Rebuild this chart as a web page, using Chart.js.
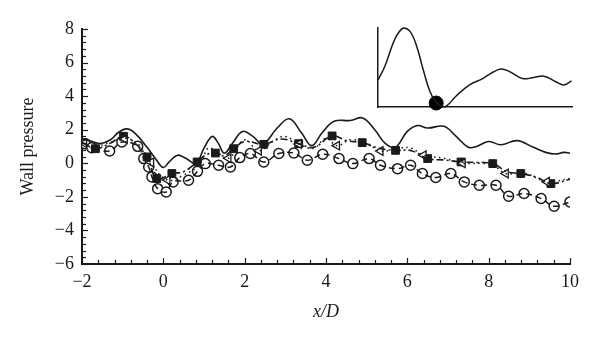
<!DOCTYPE html>
<html>
<head>
<meta charset="utf-8">
<script src="https://cdn.jsdelivr.net/npm/chart.js@4.4.0/dist/chart.umd.min.js"></script>
<style>
  body { margin: 0; background: #fff; }
  #wrap { position: relative; width: 600px; height: 344px; }
  #Chart { position: absolute; left: 0; top: 0; }
  #Inset { position: absolute; left: 370px; top: 20px; }
</style>
</head>
<body>
<div id="wrap">
  <canvas id="Chart" width="600" height="344"></canvas>
  <canvas id="Inset" width="210" height="95"></canvas>
</div>
<script>
// solid line
const solidX = [-2.0, -1.75, -1.55, -1.3, -1.1, -0.9, -0.7, -0.4, -0.2, 0.0, 0.15, 0.35, 0.55, 0.8, 1.0, 1.2, 1.35, 1.5, 1.7, 1.95, 2.2, 2.45, 2.8, 3.1, 3.4, 3.65, 3.9, 4.2, 4.6, 4.9, 5.2, 5.45, 5.7, 6.0, 6.25, 6.5, 6.9, 7.2, 7.5, 7.7, 8.0, 8.3, 8.7, 9.1, 9.4, 9.65, 9.85, 10.0];
const solidY = [1.45, 1.3, 1.17, 1.4, 1.85, 2.05, 1.8, 0.95, 0.3, -0.25, 0.1, 0.48, 0.3, 0.0, 0.9, 1.6, 1.2, 0.6, 1.2, 1.9, 1.6, 1.15, 2.1, 2.65, 1.8, 1.05, 1.8, 2.5, 2.55, 2.7, 2.0, 1.2, 0.95, 1.9, 2.25, 2.1, 2.2, 1.6, 0.95, 1.0, 1.3, 1.1, 1.35, 0.95, 0.65, 0.55, 0.65, 0.6];

// dash-dot line with filled squares
const dashDotX = [-2.0, -1.67, -1.3, -0.98, -0.7, -0.4, -0.16, 0.21, 0.5, 0.83, 1.05, 1.28, 1.5, 1.73, 2.0, 2.47, 2.9, 3.33, 3.7, 4.15, 4.5, 4.89, 5.3, 5.71, 6.1, 6.5, 6.9, 7.32, 7.7, 8.1, 8.45, 8.79, 9.2, 9.53, 10.0];
const dashDotY = [1.25, 0.87, 1.2, 1.61, 1.2, 0.38, -0.91, -0.61, -0.5, 0.08, 0.5, 0.61, 0.45, 0.87, 1.3, 1.13, 1.45, 1.17, 0.95, 1.63, 1.35, 1.23, 0.9, 0.77, 0.75, 0.28, 0.2, 0.08, 0.05, -0.02, -0.5, -0.61, -0.85, -1.21, -0.95];
const squareX = [-1.67, -0.98, -0.4, -0.16, 0.21, 0.83, 1.28, 1.73, 2.47, 3.33, 4.15, 4.89, 5.71, 6.5, 7.32, 8.1, 8.79, 9.53];
const squareY = [0.87, 1.61, 0.38, -0.91, -0.61, 0.08, 0.61, 0.87, 1.13, 1.17, 1.63, 1.23, 0.77, 0.28, 0.08, -0.02, -0.61, -1.21];

// dotted line with open triangles
const dottedX = [-2.0, -1.7, -1.3, -0.95, -0.6, -0.3, 0.1, 0.5, 0.9, 1.1, 1.3, 1.6, 2.0, 2.35, 2.75, 3.0, 3.33, 3.7, 4.0, 4.27, 4.6, 5.0, 5.34, 5.8, 6.1, 6.4, 6.9, 7.36, 7.8, 8.1, 8.42, 8.9, 9.43, 10.0];
const dottedY = [1.2, 1.0, 1.25, 1.5, 1.1, 0.0, -1.0, -0.7, -0.05, 0.9, 0.7, 0.3, 1.4, 0.75, 1.4, 1.6, 1.15, 0.9, 1.5, 1.05, 1.4, 1.2, 0.73, 0.9, 0.9, 0.48, 0.3, 0.0, 0.0, -0.1, -0.61, -0.6, -1.1, -0.9];
const triX = [-1.95, -0.95, -0.3, 0.1, 1.6, 2.35, 3.33, 4.27, 5.34, 6.4, 7.36, 8.42, 9.43];
const triY = [1.2, 1.45, 0.05, -1.0, 0.3, 0.75, 1.15, 1.05, 0.73, 0.48, 0.0, -0.61, -1.1];

// dashed line with open circles
const circX = [-1.92, -1.76, -1.32, -1.02, -0.63, -0.48, -0.36, -0.28, -0.14, 0.07, 0.24, 0.62, 0.84, 1.03, 1.36, 1.65, 1.88, 2.14, 2.47, 2.84, 3.21, 3.54, 3.92, 4.32, 4.66, 5.06, 5.34, 5.76, 6.08, 6.37, 6.7, 7.07, 7.4, 7.77, 8.18, 8.49, 8.87, 9.29, 9.61, 10.0];
const circY = [1.17, 0.93, 0.73, 1.27, 1.01, 0.28, -0.22, -0.81, -1.51, -1.71, -1.11, -1.01, -0.48, -0.02, -0.12, -0.22, 0.34, 0.58, 0.08, 0.58, 0.61, 0.18, 0.54, 0.28, -0.02, 0.28, -0.12, -0.32, -0.12, -0.61, -0.85, -0.61, -1.11, -1.31, -1.31, -1.96, -1.8, -2.1, -2.56, -2.3];

// inset curve
const insetX = [0, 0.36, 0.87, 1.3, 1.64, 1.98, 2.32, 2.67, 2.97, 3.26, 3.52, 4.03, 4.72, 5.4, 5.92, 6.34, 6.77, 7.45, 7.97, 8.56, 9.16, 9.59, 9.98];
const insetY = [0.34, 0.52, 0.86, 1.0, 0.96, 0.78, 0.48, 0.2, 0.07, 0.01, 0.01, 0.14, 0.28, 0.36, 0.44, 0.48, 0.45, 0.36, 0.37, 0.39, 0.32, 0.28, 0.33];
const dotX = [3.0];
const dotY = [0.05];

const minorStep = 0.4;
const ink = '#1a1a1a';
const serif = 'Liberation Serif';

function pts(xs, ys) {
    return xs.map((x, i) => ({x: x, y: ys[i]}));
}

function minusLabel(v) {
    return v < 0 ? '\u2212' + Math.abs(v) : '' + v;
}

// ticks pointing into the plot, minor every 0.4
const innerTicks = {
    id: 'innerTicks',
    afterDraw(chart) {
        const {ctx, chartArea} = chart;
        const xs = chart.scales.x;
        const ys = chart.scales.y;
        ctx.save();
        ctx.strokeStyle = ink;
        ctx.lineWidth = 1.2;
        for (let k = 0; xs.min + k * minorStep <= xs.max + 1e-6; k++) {
            const v = xs.min + k * minorStep;
            const p = Math.round(xs.getPixelForValue(v)) + 0.5;
            const len = (k % 5 === 0) ? 6 : 4;
            ctx.beginPath();
            ctx.moveTo(p, chartArea.bottom);
            ctx.lineTo(p, chartArea.bottom - len);
            ctx.stroke();
        }
        for (let k = 0; ys.min + k * minorStep <= ys.max + 1e-6; k++) {
            const v = ys.min + k * minorStep;
            const p = Math.round(ys.getPixelForValue(v)) + 0.5;
            const len = (k % 5 === 0) ? 6 : 4;
            ctx.beginPath();
            ctx.moveTo(chartArea.left, p);
            ctx.lineTo(chartArea.left + len, p);
            ctx.stroke();
        }
        ctx.restore();
    }
};

const ctx = document.getElementById('Chart').getContext('2d');
const chart = new Chart(ctx, {
    type: 'scatter',
    data: {
        datasets: [
            {
                data: pts(solidX, solidY),
                showLine: true,
                borderColor: ink,
                borderWidth: 1.6,
                pointRadius: 0,
                tension: 0.4
            },
            {
                data: pts(dashDotX, dashDotY),
                showLine: true,
                borderColor: ink,
                borderWidth: 1.6,
                borderDash: [7, 3, 2, 3],
                pointRadius: 0,
                tension: 0.4
            },
            {
                data: pts(dottedX, dottedY),
                showLine: true,
                borderColor: ink,
                borderWidth: 1.5,
                borderDash: [1.5, 3.5],
                pointRadius: 0,
                tension: 0.4
            },
            {
                data: pts(circX, circY),
                showLine: true,
                borderColor: ink,
                borderWidth: 1.5,
                borderDash: [6, 4],
                pointRadius: 0,
                tension: 0.4
            },
            {
                data: pts(triX, triY),
                pointStyle: 'triangle',
                rotation: -90,
                pointRadius: 5,
                backgroundColor: '#fff',
                borderColor: ink,
                borderWidth: 1.3
            },
            {
                data: pts(squareX, squareY),
                pointStyle: 'rect',
                pointRadius: 5.5,
                backgroundColor: ink,
                borderColor: ink,
                borderWidth: 1
            },
            {
                data: pts(circX, circY),
                pointStyle: 'circle',
                pointRadius: 5,
                backgroundColor: '#fff',
                borderColor: ink,
                borderWidth: 1.5
            }
        ]
    },
    options: {
        responsive: false,
        animation: false,
        layout: { padding: { left: 0, top: 29, right: 30, bottom: 0 } },
        plugins: {
            legend: { display: false },
            tooltip: { enabled: false }
        },
        scales: {
            x: {
                type: 'linear',
                min: -2,
                max: 10,
                afterFit: (s) => { s.height = 80; },
                grid: { drawOnChartArea: false, drawTicks: false },
                border: { display: true, color: ink, width: 2 },
                ticks: {
                    stepSize: 2,
                    padding: 7,
                    color: ink,
                    font: { family: serif, size: 18 },
                    callback: minusLabel
                },
                title: {
                    display: true,
                    text: 'x/D',
                    color: ink,
                    padding: { top: 0, bottom: 21 },
                    font: { family: serif, size: 18, style: 'italic' }
                }
            },
            y: {
                min: -6,
                max: 8,
                afterFit: (s) => { s.width = 82; },
                grid: { drawOnChartArea: false, drawTicks: false },
                border: { display: true, color: ink, width: 2 },
                ticks: {
                    stepSize: 2,
                    padding: 8,
                    color: ink,
                    font: { family: serif, size: 18 },
                    callback: minusLabel
                },
                title: {
                    display: true,
                    text: 'Wall pressure',
                    color: ink,
                    padding: { top: 17, bottom: 0 },
                    font: { family: serif, size: 18 }
                }
            }
        }
    },
    plugins: [innerTicks]
});

const ctx2 = document.getElementById('Inset').getContext('2d');
const inset = new Chart(ctx2, {
    type: 'scatter',
    data: {
        datasets: [
            {
                data: pts(insetX, insetY),
                showLine: true,
                borderColor: ink,
                borderWidth: 1.5,
                pointRadius: 0,
                tension: 0.4,
                clip: false
            },
            {
                data: pts(dotX, dotY),
                pointRadius: 7,
                backgroundColor: '#000',
                borderColor: '#000',
                clip: false
            }
        ]
    },
    options: {
        responsive: false,
        animation: false,
        layout: { padding: { left: 8, top: 7, right: 7, bottom: 5 } },
        plugins: {
            legend: { display: false },
            tooltip: { enabled: false }
        },
        scales: {
            x: {
                type: 'linear',
                min: 0,
                max: 10,
                grid: { drawOnChartArea: false, drawTicks: false },
                border: { display: true, color: ink, width: 1.5 },
                ticks: { display: false }
            },
            y: {
                min: 0,
                max: 1,
                grid: { drawOnChartArea: false, drawTicks: false },
                border: { display: true, color: ink, width: 1.5 },
                ticks: { display: false }
            }
        }
    }
});
</script>
</body>
</html>
